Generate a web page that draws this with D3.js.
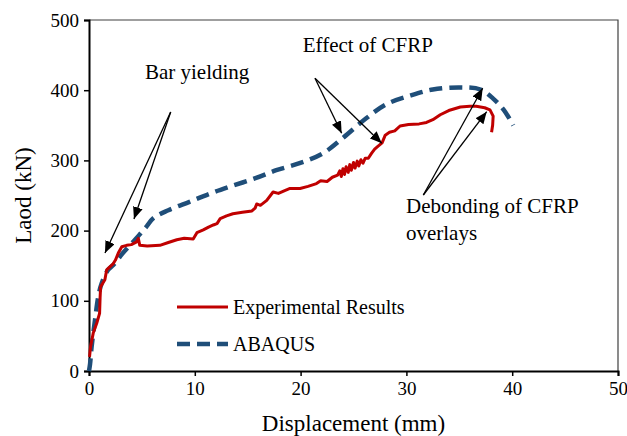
<!DOCTYPE html>
<html>
<head>
<meta charset="utf-8">
<script src="https://cdn.jsdelivr.net/npm/d3@7/dist/d3.min.js"></script>
<style>
  html, body { margin: 0; padding: 0; background: #fff; }
  svg { display: block; font-family: "Liberation Serif", "Times New Roman", serif; }
</style>
</head>
<body>
<svg id="chart" width="627" height="436"></svg>
<script>
// displacement (mm), load (kN)
const expDisp = [0.05, 0.15, 0.4, 0.73, 1.0, 1.05, 1.1, 1.5, 1.67, 2.3, 2.5, 2.77, 3.1, 3.56, 4.0, 4.5, 4.66, 4.8, 5.5, 6.7, 7.5, 8.3, 9.0, 9.85, 10.2, 10.8, 11.3, 11.75, 12.1, 12.4, 13.0, 13.6, 14.5, 15.4, 15.7, 15.85, 16.2, 16.8, 17.4, 17.9, 18.5, 19.0, 19.95, 20.7, 21.5, 21.9, 22.5, 23.0, 23.5, 23.7, 23.85, 24.0, 24.15, 24.3, 24.5, 24.65, 24.8, 25.0, 25.15, 25.35, 25.5, 25.7, 25.9, 26.1, 26.4, 26.7, 27.0, 27.3, 27.7, 28.0, 28.4, 28.9, 29.4, 30.2, 31.2, 31.9, 32.5, 33.2, 34.0, 35.1, 36.0, 36.6, 37.4, 37.9, 38.2, 38.15, 38.05];
const expLoad = [20, 35, 54, 68, 82, 105, 120, 130, 144, 153, 158, 168, 177, 179, 180, 184, 189, 179, 178, 179, 183, 187, 189, 188, 197, 201, 205, 208, 210, 217, 221, 224, 226, 228, 232, 238, 236, 243, 255, 253, 257, 260, 260, 263, 267, 271, 270, 276, 279, 285, 277, 288, 280, 291, 283, 294, 286, 297, 289, 299, 292, 301, 296, 303, 303, 310, 316, 320, 325, 336, 340, 342, 349, 351, 352, 354, 358, 365, 371, 376, 377, 377, 375, 372, 363, 350, 340];

const abqDisp = [0, 0.1, 0.25, 0.57, 0.88, 1.2, 1.8, 2.3, 3.2, 4.35, 5.45, 6.1, 7.5, 9.5, 11.5, 13.6, 15.8, 17.7, 19.9, 22.1, 24.0, 26.2, 28.1, 30.3, 32.5, 35.1, 37.0, 38.2, 39.2, 40.1];
const abqLoad = [0, 10, 35, 73, 106, 125, 144, 151, 168, 187, 206, 218, 229, 241, 253, 264, 275, 286, 296, 310, 332, 360, 380, 392, 401, 404, 401, 388, 372, 350];

const xTicks = [0, 10, 20, 30, 40, 50];
const yTicks = [0, 100, 200, 300, 400, 500];

const seriesNames = ["Experimental Results", "ABAQUS"];

// annotations in data units: text anchor and arrows [from, to]
const noteTexts = ["Bar yielding", "Effect of CFRP", "Debonding of CFRP", "overlays"];
const noteAt = [[5.29, 416], [20.2, 455], [29.96, 225], [29.96, 186.6]];
const arrowFrom = [[7.72, 369], [7.72, 369], [21.36, 417], [21.36, 417], [31.6, 250.7], [31.6, 250.7]];
const arrowTo = [[1.51, 168], [4.25, 216.5], [23.88, 338.6], [27.67, 324.4], [37.21, 402.7], [37.59, 369.4]];

const width = 627, height = 436;
const margin = { top: 20, right: 9, bottom: 65, left: 89 };

const svg = d3.select('#chart');

const x = d3.scaleLinear().domain([0, 50]).range([margin.left, width - margin.right]);
const y = d3.scaleLinear().domain([0, 500]).range([height - margin.bottom, margin.top]);

// frame (top + right)
svg.append('path')
  .attr('d', `M${x(0)},${y(500)}H${x(50)}V${y(0)}`)
  .attr('fill', 'none')
  .attr('stroke', '#404040')
  .attr('stroke-width', 1.2);

const xAxis = svg.append('g')
  .attr('transform', `translate(0,${y(0)})`)
  .call(d3.axisBottom(x).tickValues(xTicks).tickSize(5).tickPadding(6).tickFormat(d3.format('d')));

const yAxis = svg.append('g')
  .attr('transform', `translate(${x(0)},0)`)
  .call(d3.axisLeft(y).tickValues(yTicks).tickSize(5).tickPadding(5).tickFormat(d3.format('d')));

[xAxis, yAxis].forEach(g => {
  g.select('.domain').attr('stroke', '#000').attr('stroke-width', 2);
  g.selectAll('.tick line').attr('stroke', '#000').attr('stroke-width', 1.5);
  g.selectAll('.tick text')
    .attr('fill', '#000')
    .style('font-family', '"Liberation Serif", serif')
    .style('font-size', '19px');
});

svg.append('text')
  .attr('x', (x(0) + x(50)) / 2)
  .attr('y', 431)
  .attr('text-anchor', 'middle')
  .style('font-size', '23px')
  .text('Displacement (mm)');

svg.append('text')
  .attr('transform', `translate(31,${(y(0) + y(500)) / 2}) rotate(-90)`)
  .attr('text-anchor', 'middle')
  .style('font-size', '23px')
  .text('Laod (kN)');

const line = d3.line()
  .x(d => x(d[0]))
  .y(d => y(d[1]));

const abqData = abqDisp.map((d, i) => [d, abqLoad[i]]);
const expData = expDisp.map((d, i) => [d, expLoad[i]]);

svg.append('path')
  .datum(abqData)
  .attr('d', line.curve(d3.curveCatmullRom)(abqData))
  .attr('fill', 'none')
  .attr('stroke', '#1f4e79')
  .attr('stroke-width', 4.5)
  .attr('stroke-dasharray', '13,7');

svg.append('path')
  .datum(expData)
  .attr('d', line.curve(d3.curveLinear)(expData))
  .attr('fill', 'none')
  .attr('stroke', '#c00000')
  .attr('stroke-width', 3)
  .attr('stroke-linejoin', 'round');

// arrows
svg.append('defs').append('marker')
  .attr('id', 'head')
  .attr('viewBox', '0 0 12 10')
  .attr('refX', 12)
  .attr('refY', 5)
  .attr('markerWidth', 12)
  .attr('markerHeight', 10)
  .attr('markerUnits', 'userSpaceOnUse')
  .attr('orient', 'auto')
  .append('path')
  .attr('d', 'M0,0L12,5L0,10Z')
  .attr('fill', '#000');

arrowFrom.forEach((f, i) => {
  const t = arrowTo[i];
  svg.append('line')
    .attr('x1', x(f[0])).attr('y1', y(f[1]))
    .attr('x2', x(t[0])).attr('y2', y(t[1]))
    .attr('stroke', '#000')
    .attr('stroke-width', 1.3)
    .attr('marker-end', 'url(#head)');
});

noteTexts.forEach((t, i) => {
  svg.append('text')
    .attr('x', x(noteAt[i][0]))
    .attr('y', y(noteAt[i][1]))
    .style('font-size', '21px')
    .text(t);
});

// legend
const legend = svg.append('g');
const legY = [307, 344];
const legStyle = [
  { stroke: '#c00000', width: 3, dash: null },
  { stroke: '#1f4e79', width: 4.5, dash: '13,7' }
];
seriesNames.forEach((name, i) => {
  legend.append('line')
    .attr('x1', 177).attr('x2', 228)
    .attr('y1', legY[i]).attr('y2', legY[i])
    .attr('stroke', legStyle[i].stroke)
    .attr('stroke-width', legStyle[i].width)
    .attr('stroke-dasharray', legStyle[i].dash);
  legend.append('text')
    .attr('x', 233)
    .attr('y', legY[i] + 6.5)
    .style('font-size', '20px')
    .text(name);
});
</script>
</body>
</html>
